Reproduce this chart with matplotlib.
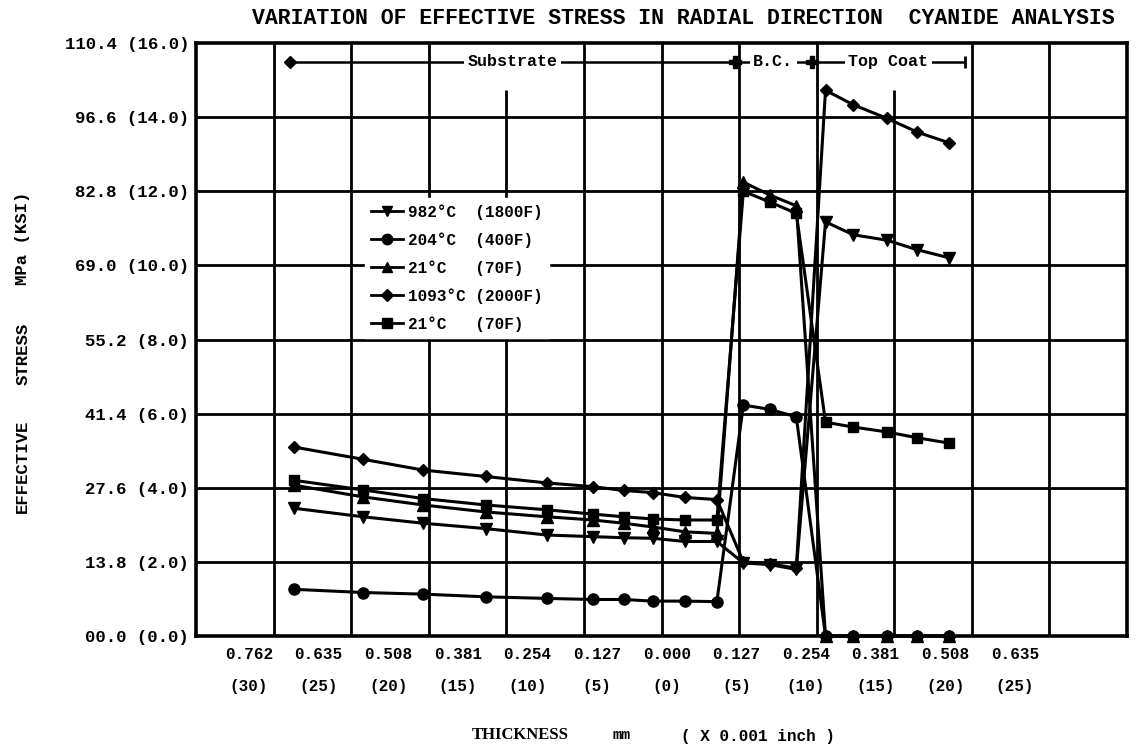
import matplotlib
matplotlib.use("Agg")
import matplotlib.pyplot as plt
from matplotlib.lines import Line2D
import numpy as np

# ---------------- data ----------------
# x positions: thickness in 0.001 inch (negative = into substrate)
x_substrate = [-26.8, -21.8, -17.5, -13.0, -8.6, -5.3, -3.1, -1.0, 1.3, 3.6]
x_bondcoat = [5.5, 7.4, 9.3]
x_topcoat = [11.4, 13.4, 15.8, 18.0, 20.3]

# effective stress, MPa
s982_sub = [23.8, 22.2, 21.0, 20.0, 18.8, 18.5, 18.3, 18.2, 17.6, 17.6]
s982_bc = [13.6, 13.3, 12.4]
s982_tc = [77.1, 74.7, 73.7, 71.9, 70.4]

s204_sub = [8.7, 8.1, 7.8, 7.3, 7.0, 6.8, 6.8, 6.5, 6.5, 6.4]
s204_bc = [43.0, 42.2, 40.8]
s204_tc = [0.0, 0.0, 0.0, 0.0, 0.0]

s21a_sub = [28.1, 25.9, 24.4, 23.1, 22.2, 21.6, 21.0, 20.3, 19.4, 19.1]
s21a_bc = [84.5, 82.1, 80.1]
s21a_tc = [0.0, 0.0, 0.0, 0.0, 0.0]

s1093_sub = [35.2, 32.9, 30.9, 29.7, 28.5, 27.8, 27.1, 26.7, 25.8, 25.4]
s1093_bc = [13.8, 13.5, 12.6]
s1093_tc = [101.6, 98.9, 96.4, 93.8, 91.8]

s21b_sub = [29.0, 27.2, 25.6, 24.4, 23.5, 22.7, 22.2, 21.8, 21.6, 21.6]
s21b_bc = [82.8, 80.8, 78.7]
s21b_tc = [39.8, 38.9, 38.0, 36.9, 35.9]

series_labels = ["982°C  (1800F)", "204°C  (400F)", "21°C   (70F)",
                 "1093°C (2000F)", "21°C   (70F)"]
series_markers = ["v", "o", "^", "D", "s"]

ytick_mpa = [0.0, 13.8, 27.6, 41.4, 55.2, 69.0, 82.8, 96.6, 110.4]
ytick_ksi = [0.0, 2.0, 4.0, 6.0, 8.0, 10.0, 12.0, 14.0, 16.0]
xtick_pos = [-30, -25, -20, -15, -10, -5, 0, 5, 10, 15, 20, 25]
xtick_mm = ["0.762", "0.635", "0.508", "0.381", "0.254", "0.127", "0.000",
            "0.127", "0.254", "0.381", "0.508", "0.635"]
xtick_mil = [30, 25, 20, 15, 10, 5, 0, 5, 10, 15, 20, 25]

region_names = ["Substrate", "B.C.", "Top Coat"]
region_edges = [-27.05, 4.9, 10.4, 21.4]

# ---------------- figure ----------------
MONO = "Liberation Mono"
SERIF = "Liberation Serif"

fig = plt.figure(figsize=(11.39, 7.51), dpi=100)
fig.patch.set_facecolor("white")
ax = fig.add_axes([0.1721, 0.1531, 0.8174, 0.7896])

xmin, xmax = -33.8, 33.05
ymin, ymax = 0.0, 110.4
ax.set_xlim(xmin, xmax)
ax.set_ylim(ymin, ymax)

# grid
for yv in ytick_mpa[1:-1]:
    ax.axhline(yv, color="black", lw=2.0, zorder=1)
grid_x = np.linspace(xmin, xmax, 13)[1:-1]
grid_top = [ymax] * len(grid_x)
grid_top[3] = 101.6
grid_top[8] = 101.6
ax.vlines(grid_x, ymin, grid_top, color="black", lw=2.0, zorder=1)

for sp in ax.spines.values():
    sp.set_linewidth(2.6)
    sp.set_color("black")

# series
xs = x_substrate + x_bondcoat + x_topcoat
all_series = [
    s982_sub + s982_bc + s982_tc,
    s204_sub + s204_bc + s204_tc,
    s21a_sub + s21a_bc + s21a_tc,
    s1093_sub + s1093_bc + s1093_tc,
    s21b_sub + s21b_bc + s21b_tc,
]
msizes = {"v": 8, "o": 8, "^": 8, "D": 6.5, "s": 7}
handles = []
for ys, mk, lab in zip(all_series, series_markers, series_labels):
    ax.plot(xs, ys, color="black", lw=2.2, marker=mk, ms=msizes[mk],
            mfc="black", mec="black", zorder=3, clip_on=False)
    handles.append(Line2D([0], [0], color="black", lw=2.0, marker=mk,
                          ms=msizes[mk] - 0.5, mfc="black", mec="black"))

leg = ax.legend(handles, series_labels, loc="upper left",
                bbox_to_anchor=(0.1815, 0.739), borderaxespad=0,
                frameon=True, fancybox=False, framealpha=1.0,
                facecolor="white", edgecolor="white",
                handlelength=2.0, handletextpad=0.3, labelspacing=0.78,
                borderpad=0.4, markerfirst=True,
                prop={"family": MONO, "weight": "bold", "size": 11.5})
leg.set_zorder(5)

# ticks
ax.set_yticks(ytick_mpa)
ax.set_yticklabels([f"{m:04.1f} ({k:.1f})" for m, k in zip(ytick_mpa, ytick_ksi)],
                   family=MONO, weight="bold", fontsize=12.5)
ax.set_xticks(xtick_pos)
ax.set_xticklabels([f"{a}\n({b})" for a, b in zip(xtick_mm, xtick_mil)],
                   family=MONO, weight="bold", fontsize=11.5)
for lbl in ax.get_xticklabels():
    lbl.set_linespacing(2.4)
ax.tick_params(axis="both", length=0)
ax.tick_params(axis="y", pad=5)
ax.tick_params(axis="x", pad=8)

# region annotations along the top
ann_y = 106.9
ax.plot([region_edges[0], region_edges[-1]], [ann_y, ann_y], color="black",
        lw=1.8, zorder=4)
for i, name in enumerate(region_names):
    cx = 0.5 * (region_edges[i] + region_edges[i + 1])
    ax.text(cx, ann_y, name, ha="center", va="center", family=MONO,
            weight="bold", fontsize=12, zorder=6,
            bbox=dict(facecolor="white", edgecolor="none", pad=2.5))
ax.plot([region_edges[0]], [ann_y], marker="D", ms=6, color="black", zorder=6)
ax.plot(region_edges[1:3], [ann_y, ann_y], marker="P", ms=8, color="black",
        ls="none", zorder=6)
ax.plot([region_edges[3]], [ann_y], marker="|", ms=8, mew=2, color="black",
        zorder=6)

# titles and axis labels
fig.text(0.60, 0.976, "VARIATION OF EFFECTIVE STRESS IN RADIAL DIRECTION  CYANIDE ANALYSIS",
         ha="center", va="center", family=MONO, weight="bold", fontsize=15.5)

fig.text(0.020, 1 - 466 / 751, "EFFECTIVE", rotation=90, ha="center",
         va="center", family=MONO, weight="bold", fontsize=12.5)
fig.text(0.020, 1 - 354 / 751, "STRESS", rotation=90, ha="center",
         va="center", family=MONO, weight="bold", fontsize=12.5)
fig.text(0.020, 1 - 238 / 751, "MPa (KSI)", rotation=90, ha="center",
         va="center", family=MONO, weight="bold", fontsize=12.5)

fig.text(520 / 1139, 1 - 735 / 751, "THICKNESS", ha="center", va="center",
         family=SERIF, weight="bold", fontsize=12)
fig.text(622 / 1139, 1 - 735 / 751, "mm", ha="center", va="center",
         family=MONO, weight="bold", fontsize=11)
fig.text(758 / 1139, 1 - 737 / 751, "( X 0.001 inch )", ha="center",
         va="center", family=MONO, weight="bold", fontsize=11.5)

fig.savefig("out.png", dpi=100, facecolor="white")
